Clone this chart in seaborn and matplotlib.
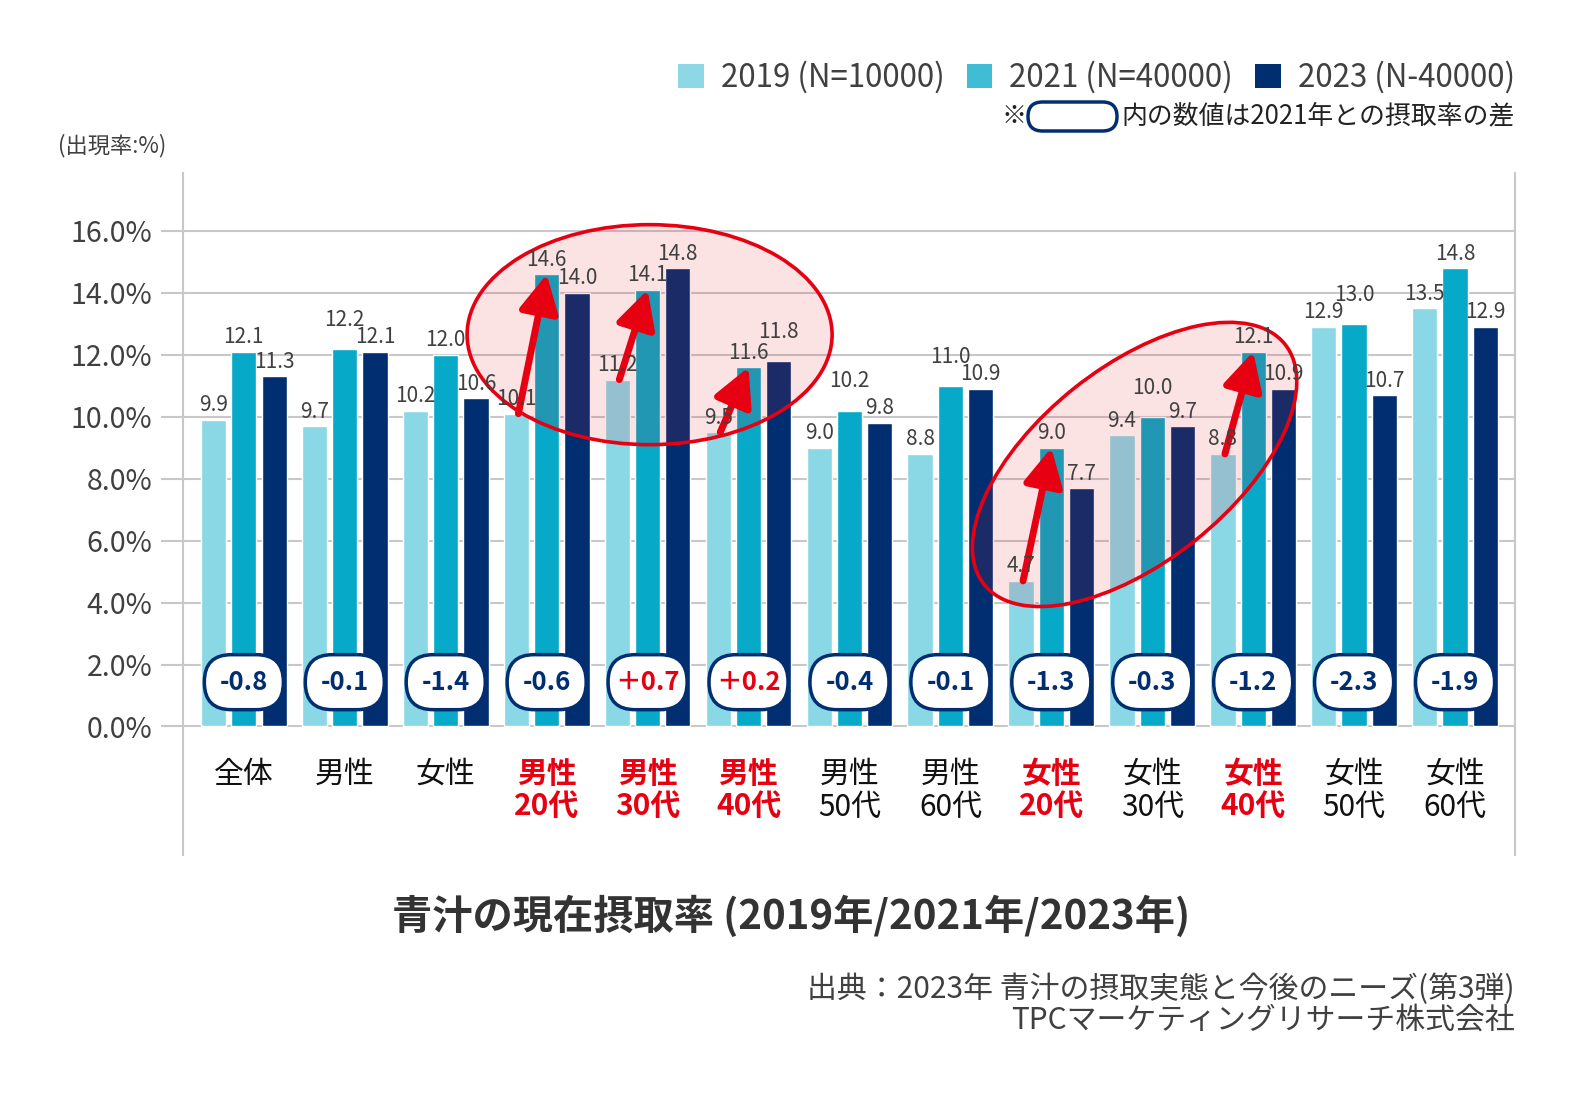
import matplotlib
matplotlib.use('Agg')
import matplotlib.pyplot as plt
import seaborn as sns
import pandas as pd
from matplotlib.patches import FancyBboxPatch, Ellipse, Patch
from matplotlib.transforms import ScaledTranslation

# ---------------- data ----------------
categories = ['全体', '男性', '女性', '男性\n20代', '男性\n30代', '男性\n40代', '男性\n50代',
              '男性\n60代', '女性\n20代', '女性\n30代', '女性\n40代', '女性\n50代', '女性\n60代']
years = ['2019 (N=10000)', '2021 (N=40000)', '2023 (N-40000)']
v2019 = [9.9, 9.7, 10.2, 10.1, 11.2, 9.5, 9.0, 8.8, 4.7, 9.4, 8.8, 12.9, 13.5]
v2021 = [12.1, 12.2, 12.0, 14.6, 14.1, 11.6, 10.2, 11.0, 9.0, 10.0, 12.1, 13.0, 14.8]
v2023 = [11.3, 12.1, 10.6, 14.0, 14.8, 11.8, 9.8, 10.9, 7.7, 9.7, 10.9, 10.7, 12.9]
diff_labels = ['-0.8', '-0.1', '-1.4', '-0.6', '＋0.7', '＋0.2', '-0.4', '-0.1',
               '-1.3', '-0.3', '-1.2', '-2.3', '-1.9']
highlight = [3, 4, 5, 8, 10]
yticks = [0, 2, 4, 6, 8, 10, 12, 14, 16]
ytick_labels = [f'{t:.1f}%' for t in yticks]

title = '青汁の現在摂取率 (2019年/2021年/2023年)'
source1 = '出典：2023年 青汁の摂取実態と今後のニーズ(第3弾)'
source2 = 'TPCマーケティングリサーチ株式会社'

# ---------------- style ----------------
sns.set_style('white')
plt.rcParams['font.family'] = ['Noto Sans CJK JP', 'DejaVu Sans']

bar_colors = ['#8AD7E6', '#06A9C7', '#002E70']
legend_colors = ['#8ED8E6', '#40BCD4', '#002E6E']
NAVY = '#002E70'
RED = '#E60012'
GRAY = '#C8C8C8'
TXT = '#404040'

W, H = 1580, 1094

df = pd.DataFrame({
    'cat': categories * 3,
    'year': [years[0]] * 13 + [years[1]] * 13 + [years[2]] * 13,
    'value': v2019 + v2021 + v2023,
})

fig = plt.figure(figsize=(15.8, 10.94), dpi=100)
ax = fig.add_axes([183 / W, 1 - 855 / H, (1515 - 183) / W, (855 - 173) / H])

sns.barplot(data=df, x='cat', y='value', hue='year', order=categories, hue_order=years,
            palette=bar_colors, saturation=1, width=0.9, gap=1 / 6, errorbar=None,
            legend=False, ax=ax, zorder=2)

# value labels: a label is lifted when the neighbouring bar is slightly lower
vals = [v2019, v2021, v2023]
for k, (cont, vs) in enumerate(zip(ax.containers, vals)):
    for j, (bar, v) in enumerate(zip(cont.patches, vs)):
        pad = 2.5
        for nk in (k - 1, k + 1):
            if 0 <= nk < 3:
                nv = vals[nk][j]
                if 0 <= v - nv <= 0.4:
                    pad = 13
        ax.annotate(f'{v:.1f}', xy=(bar.get_x() + bar.get_width() / 2, bar.get_height()),
                    xytext=(0, pad), textcoords='offset points', ha='center',
                    va='bottom', fontsize=15, color=TXT, zorder=9)

# axes styling
ax.set_xlabel('')
ax.set_ylabel('')
ax.set_yticks(yticks)
ax.set_yticklabels(ytick_labels)
ax.yaxis.grid(True, color=GRAY, lw=1.5)
ax.set_axisbelow(True)
ax.set_xticks([])
ax.tick_params(axis='y', length=16, width=1.5, color=GRAY, pad=6, labelsize=20.5,
               labelcolor=TXT, left=True)
for s in ['top', 'bottom']:
    ax.spines[s].set_visible(False)
for s in ['left', 'right']:
    ax.spines[s].set_color(GRAY)
    ax.spines[s].set_linewidth(1.5)

# category labels
for i, c in enumerate(categories):
    hl = i in highlight
    ax.text(i, -1.05, c, ha='center', va='top', fontsize=21.5, linespacing=1.1,
            color=RED if hl else '#111111', weight='bold' if hl else 'normal')

# difference pills
for i, d in enumerate(diff_labels):
    tr = fig.dpi_scale_trans + ScaledTranslation(i, 1.43, ax.transData)
    p = FancyBboxPatch((-0.395, -0.275), 0.79, 0.55,
                       boxstyle='round,pad=0,rounding_size=0.27', transform=tr,
                       fc='white', ec=NAVY, lw=2.5, zorder=10)
    ax.add_patch(p)
    ax.text(i, 1.43, d, ha='center', va='center', fontsize=18.5, weight='bold',
            color=RED if d.startswith('＋') else NAVY, zorder=11)

# highlight ellipses
ell_specs = [((4.02, 12.65), 3.65, 2.20, 0.0), ((8.825, 8.46), 3.85, 1.945, 38.6)]
for (cx, cy), w, h, ang in ell_specs:
    tr = fig.dpi_scale_trans + ScaledTranslation(cx, cy, ax.transData)
    e = Ellipse((0, 0), w, h, angle=ang, transform=tr,
                fc=(0.90, 0.10, 0.16, 0.12), ec=RED, lw=2.6, zorder=6)
    ax.add_patch(e)

# arrows
for i in highlight:
    ax.annotate('', xy=(i, v2021[i]), xytext=(i - 0.28, v2019[i]),
                arrowprops=dict(arrowstyle='-|>,head_length=1.15,head_width=0.6',
                                mutation_scale=20, lw=5, color=RED,
                                shrinkA=0, shrinkB=0), zorder=8)

ax.set_xlim(-0.603, 12.594)
ax.set_ylim(-4.15, 17.87)

# y unit label
fig.text(58 / W, 1 - 146 / H, '(出現率:%)', ha='left', va='center',
         fontsize=16, color=TXT)

# legend
handles = [Patch(facecolor=c, edgecolor='none') for c in legend_colors]
fig.legend(handles, years, loc='upper right', bbox_to_anchor=(1515 / W, 1 - 61 / H),
           ncol=3, frameon=False, fontsize=22.5, handlelength=0.82, handleheight=0.82,
           handletextpad=0.55, columnspacing=0.7, borderaxespad=0, borderpad=0,
           labelcolor=TXT)

# note line
fig.text(1515 / W, 1 - 116 / H, '内の数値は2021年との摂取率の差', ha='right',
         va='center', fontsize=18.6, color='#222222')
fig.text(1014 / W, 1 - 116 / H, '※', ha='center', va='center', fontsize=18,
         color='#222222')
note_box = FancyBboxPatch((10.28, (H - 131) / 100), 0.89, 0.29,
                          boxstyle='round,pad=0,rounding_size=0.145',
                          transform=fig.dpi_scale_trans, fc='white', ec=NAVY, lw=2.5)
fig.add_artist(note_box)

# title and source
fig.text(791 / W, 1 - 917 / H, title, ha='center', va='center', fontsize=29,
         weight='bold', color='#333333')
fig.text(1515 / W, 1 - 989 / H, source1, ha='right', va='center', fontsize=21.5,
         color=TXT)
fig.text(1515 / W, 1 - 1020 / H, source2, ha='right', va='center', fontsize=21.5,
         color=TXT)

fig.savefig('out.png', dpi=100)
